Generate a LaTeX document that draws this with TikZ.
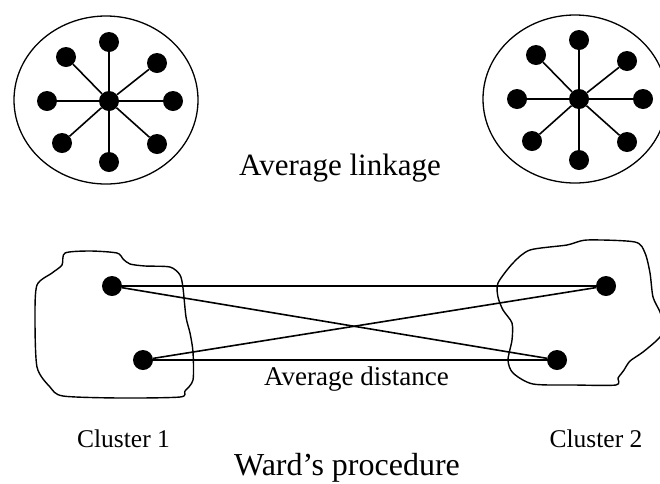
\documentclass[tikz,border=0pt]{standalone}
\usepackage{fontspec}
\setmainfont{Liberation Serif}
\usetikzlibrary{shapes.geometric}
\tikzset{
  dot/.style={circle, fill=black, draw=none, inner sep=0pt, minimum size=20pt},
  link/.style={line width=1.6pt, black},
  ring/.style={ellipse, draw=black, line width=1.3pt, minimum width=184pt, minimum height=168pt, inner sep=0pt},
  blob/.style={line width=1.4pt, black},
  bigtxt/.style={anchor=base, inner sep=0pt, font=\fontsize{31}{36}\selectfont},
  midtxt/.style={anchor=base, inner sep=0pt, font=\fontsize{27}{32}\selectfont},
  smalltxt/.style={anchor=base, inner sep=0pt, font=\fontsize{25.5}{30}\selectfont}
}
\begin{document}
\begin{tikzpicture}[x=1pt,y=-1pt]
\useasboundingbox (0,0) rectangle (660,483);

% ---- Average linkage: two clusters
\node[ring] (E1) at (106,100) {};
\node[ring] (E2) at (575,99) {};
\node[dot] (Lc) at (109,101) {};
\node[dot] (Rc) at (579,99) {};
\foreach \nm/\dx/\dy in {t/0/-59, ul/-43/-44, ur/48/-38, l/-62/0, r/64/0, ll/-47/42, lr/48/43, b/0/61} {
  \node[dot] (L\nm) at ([shift={(\dx,\dy)}]Lc) {};
  \draw[link] (Lc) -- (L\nm);
  \node[dot] (R\nm) at ([shift={(\dx,\dy)}]Rc) {};
  \draw[link] (Rc) -- (R\nm);
}
\node[bigtxt] (avglink) at (340,175) {Average linkage};

% ---- Ward's procedure: two irregular clusters
\draw[blob] plot[smooth cycle, tension=0.45] coordinates {
  (65,253) (90,251) (117,253) (123,259) (130,264) (145,266) (170,267) (180,275)
  (183,288) (186,317) (190,333) (193,352) (193,380) (185,391) (180,397) (120,398)
  (63,396) (50,387) (37,367) (35,317) (37,285) (52,273) (62,265)};
\draw[blob] plot[smooth cycle, tension=0.45] coordinates {
  (567,245) (587,240) (635,242) (645,253) (650,273) (653,297) (660,312) (663,325)
  (660,337) (643,352) (630,361) (624,370) (621,374) (618,378) (616,385) (575,385)
  (533,384) (513,373) (508,360) (512,340) (512,323) (503,310) (498,297) (498,283)
  (513,263) (530,250)};

\node[dot] (a1) at (112,286) {};
\node[dot] (a2) at (143,360) {};
\node[dot] (b1) at (606,286) {};
\node[dot] (b2) at (557,360) {};
\draw[link] (a1) -- (b1);
\draw[link] (a1) -- (b2);
\draw[link] (a2) -- (b1);
\draw[link] (a2) -- (b2);

\node[midtxt] (avgdist) at (356.5,385) {Average distance};
\node[smalltxt] (cl1) at (123.5,447) {Cluster 1};
\node[smalltxt] (cl2) at (596,447) {Cluster 2};
\node[bigtxt, font=\fontsize{32}{37}\selectfont] (ward) at (347,475) {Ward’s procedure};
\end{tikzpicture}
\end{document}
